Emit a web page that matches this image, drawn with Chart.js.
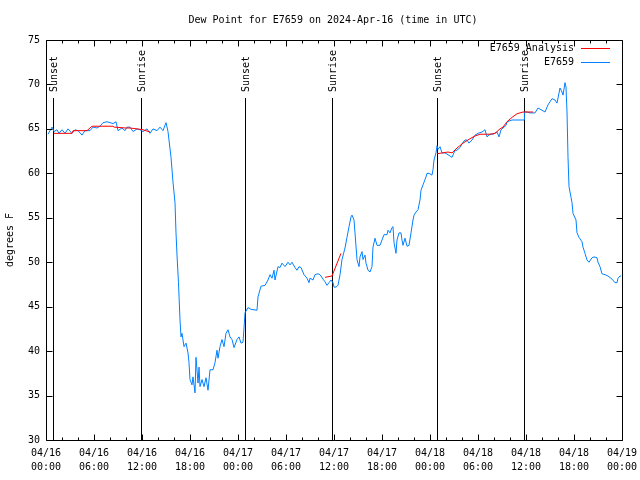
<!DOCTYPE html>
<html>
<head>
<meta charset="utf-8">
<title>Dew Point for E7659</title>
<script src="https://cdn.jsdelivr.net/npm/chart.js@4/dist/chart.umd.min.js"></script>
<style>
  html, body { margin: 0; padding: 0; background: #fff; }
  #dewChart { display: block; }
</style>
</head>
<body>
<canvas id="dewChart" width="640" height="480"></canvas>
<script>
// hours since 04/16 00:00 UTC
const obsHours = [0.25, 0.75, 1.0, 1.375, 1.625, 2.0, 2.375, 2.75, 3.25, 3.625, 4.0, 4.5, 4.875, 5.5, 5.875, 6.375, 6.75, 7.125, 7.625, 8.0,
  8.375, 8.75, 9.0, 9.5, 9.875, 10.125, 10.5, 10.875, 11.375, 11.75, 12.125, 12.625, 13.0, 13.375, 13.875, 14.25, 14.625, 15.0, 15.25, 15.625,
  15.875, 16.125, 16.25, 16.375, 16.56, 16.75, 16.875, 17.0, 17.25, 17.5, 17.75, 17.875, 18.0, 18.25, 18.375, 18.625, 18.75, 19.0, 19.125, 19.25,
  19.5, 19.75, 20.0, 20.25, 20.5, 20.875, 21.125, 21.375, 21.5, 21.75, 22.0, 22.25, 22.5, 22.75, 23.0, 23.25, 23.5, 23.875, 24.125, 24.375,
  24.625, 24.75, 24.875, 25.25, 25.625, 26.375, 26.5, 26.875, 27.375, 27.75, 28.0, 28.25, 28.5, 28.625, 29.0, 29.25, 29.5, 29.875, 30.25, 30.5,
  30.75, 31.125, 31.375, 31.625, 31.875, 32.25, 32.625, 32.875, 33.0, 33.375, 33.625, 34.0, 34.25, 34.625, 34.875, 35.125, 35.375, 35.625, 35.875, 36.0,
  36.25, 36.5, 36.75, 37.0, 37.375, 37.625, 37.875, 38.125, 38.25, 38.5, 38.625, 38.875, 39.125, 39.25, 39.5, 39.625, 39.875, 40.0, 40.25, 40.5,
  40.75, 40.875, 41.125, 41.375, 41.75, 42.0, 42.25, 42.625, 42.75, 43.0, 43.25, 43.375, 43.5, 43.75, 43.875, 44.125, 44.375, 44.5, 44.625, 44.875,
  45.125, 45.375, 45.625, 45.875, 46.0, 46.25, 46.5, 46.75, 46.875, 47.125, 47.25, 47.5, 47.625, 47.875, 48.25, 48.375, 48.5, 48.75, 48.875, 49.0,
  49.25, 49.5, 49.875, 50.25, 50.75, 51.125, 51.375, 51.75, 52.125, 52.375, 52.625, 52.875, 53.25, 53.625, 54.0, 54.5, 54.875, 55.125, 55.5, 55.875,
  56.375, 56.625, 56.875, 57.125, 57.5, 57.625, 58.25, 59.75, 59.8, 60.125, 60.5, 61.125, 61.5, 62.0, 62.375, 62.75, 63.25, 63.625, 63.875, 64.25,
  64.5, 64.625, 64.875, 65.0, 65.125, 65.25, 65.375, 65.625, 65.75, 65.875, 66.25, 66.375, 66.625, 67.0, 67.125, 67.375, 67.625, 67.875, 68.25, 68.5,
  68.875, 69.0, 69.25, 69.5, 69.875, 70.25, 70.75, 71.125, 71.375, 71.5, 71.75, 71.875];
const obsDewPoint = [64.4, 65.2, 64.7, 64.9, 64.5, 64.9, 64.5, 65.0, 64.5, 64.9, 64.8, 64.3, 64.8, 64.8, 65.2, 65.1, 65.3, 65.7, 65.8, 65.7,
  65.6, 65.8, 64.8, 65.1, 64.8, 65.2, 65.2, 64.7, 65.0, 64.9, 64.7, 65.0, 64.5, 65.0, 64.8, 65.2, 64.8, 65.7, 64.7, 61.8,
  59.0, 56.7, 53.3, 50.8, 47.7, 43.5, 41.6, 42.0, 40.5, 40.9, 39.8, 38.7, 36.8, 36.2, 37.1, 35.3, 39.3, 36.4, 38.2, 36.0,
  36.8, 36.0, 37.0, 35.6, 37.9, 37.9, 38.7, 40.1, 39.2, 40.5, 41.3, 40.5, 42.0, 42.4, 41.6, 41.3, 40.4, 41.3, 41.6, 40.9,
  41.0, 42.6, 44.3, 44.9, 44.7, 44.6, 46.1, 47.3, 47.4, 48.0, 48.6, 48.2, 49.1, 48.0, 49.5, 49.4, 49.9, 49.5, 50.0, 49.7,
  50.0, 49.4, 49.1, 49.5, 49.4, 48.6, 48.2, 47.7, 48.2, 48.0, 48.6, 48.7, 48.6, 48.1, 47.8, 47.4, 47.7, 48.0, 47.7, 47.2,
  47.2, 47.4, 48.6, 50.3, 51.6, 52.8, 54.0, 55.1, 55.3, 54.75, 53.3, 50.3, 49.5, 50.6, 51.2, 50.3, 50.8, 49.9, 49.1, 48.9,
  49.5, 51.7, 52.7, 51.9, 51.9, 52.5, 53.1, 53.1, 53.6, 53.3, 53.9, 54.0, 52.2, 51.0, 52.5, 53.3, 53.3, 52.5, 51.9, 52.7,
  51.8, 51.9, 53.3, 54.75, 55.3, 55.65, 55.9, 57.0, 58.1, 58.7, 59.0, 59.6, 60.0, 60.0, 59.8, 60.4, 61.5, 62.3, 63.1, 62.7,
  63.0, 62.3, 62.3, 62.1, 61.8, 62.6, 62.6, 62.9, 63.5, 63.75, 63.75, 63.4, 63.75, 64.3, 64.5, 64.65, 64.9, 64.1, 64.4, 64.4,
  64.65, 64.1, 64.9, 65.1, 65.4, 65.8, 66.0, 66.0, 66.9, 66.9, 66.8, 66.8, 67.35, 67.1, 66.9, 67.7, 68.4, 68.25, 67.9, 69.6,
  69.15, 68.8, 70.2, 69.7, 66.9, 61.8, 58.5, 57.3, 56.7, 55.5, 54.75, 53.3, 52.8, 52.3, 51.7, 51.0, 50.25, 50.0, 50.5, 50.6,
  50.5, 50.0, 49.5, 48.7, 48.6, 48.45, 48.1, 47.7, 47.7, 48.2, 48.45, 48.45];

// analysis runs, null = gap between runs
const anaHours = [1.0, 3.25, 3.375, 5.125, 5.75, 8.375, 8.5, 10.0, 10.5, 11.375, 12.125, 13.0, 13.1,
  34.875, 35.75, 36.875, 37.0,
  48.875, 50.25, 50.75, 51.375, 52.125, 53.0, 53.625, 54.25, 55.5, 56.125, 56.75, 57.125, 57.625, 58.25, 58.875, 59.625, 60.875];
const anaDewPoint = [64.5, 64.5, 64.8, 64.8, 65.3, 65.3, 65.2, 65.1, 65.1, 65.0, 64.9, 64.65, null,
  48.3, 48.45, 51.0, null,
  62.2, 62.4, 62.3, 62.85, 63.4, 63.9, 64.2, 64.4, 64.4, 64.5, 65.0, 65.2, 65.8, 66.3, 66.7, 66.9, 66.9];

const sunHours = [0.875, 11.875, 24.875, 35.75, 48.875, 59.75];
const sunLabels = ["Sunset", "Sunrise", "Sunset", "Sunrise", "Sunset", "Sunrise"];

const dateLabels = ["04/16", "04/16", "04/16", "04/16", "04/17", "04/17", "04/17", "04/17", "04/18", "04/18", "04/18", "04/18", "04/19"];
const timeLabels = ["00:00", "06:00", "12:00", "18:00", "00:00", "06:00", "12:00", "18:00", "00:00", "06:00", "12:00", "18:00", "00:00"];

const FONT = "10px 'DejaVu Sans Mono', 'Liberation Mono', monospace";
const monoFont = { family: "'DejaVu Sans Mono', 'Liberation Mono', monospace", size: 10 };

function toPoints(xs, ys) {
  return xs.map(function (x, i) { return { x: x, y: ys[i] }; });
}

const gnuplotFrame = {
  id: "gnuplotFrame",
  beforeDatasetsDraw: function (chart) {
    const ctx = chart.ctx;
    const x = chart.scales.x;
    const area = chart.chartArea;
    ctx.save();
    ctx.strokeStyle = "#000";
    ctx.lineWidth = 1;
    ctx.fillStyle = "#000";
    ctx.font = FONT;
    sunHours.forEach(function (h, i) {
      const px = Math.round(x.getPixelForValue(h)) + 0.5;
      ctx.beginPath();
      ctx.moveTo(px, 98);
      ctx.lineTo(px, area.bottom);
      ctx.stroke();
      ctx.save();
      ctx.translate(px + 1, 92);
      ctx.rotate(-Math.PI / 2);
      ctx.textAlign = "left";
      ctx.textBaseline = "middle";
      ctx.fillText(sunLabels[i], 0, 0);
      ctx.restore();
    });
    ctx.restore();
  },
  afterDraw: function (chart) {
    const ctx = chart.ctx;
    const x = chart.scales.x;
    const y = chart.scales.y;
    const a = chart.chartArea;
    const L = Math.round(a.left) + 0.5, R = Math.round(a.right) + 0.5;
    const T = Math.round(a.top) + 0.5, B = Math.round(a.bottom) + 0.5;
    ctx.save();
    ctx.strokeStyle = "#000";
    ctx.lineWidth = 1;
    ctx.beginPath();
    ctx.rect(L, T, R - L, B - T);
    // x ticks: major every 6 h, minor every 2 h, bottom and top
    for (let h = 0; h <= 72; h += 2) {
      const px = Math.round(x.getPixelForValue(h)) + 0.5;
      const len = h % 6 === 0 ? 6 : 3;
      ctx.moveTo(px, B); ctx.lineTo(px, B - len);
      ctx.moveTo(px, T); ctx.lineTo(px, T + len);
    }
    for (let v = 30; v <= 75; v += 5) {
      const py = Math.round(y.getPixelForValue(v)) + 0.5;
      ctx.moveTo(L, py); ctx.lineTo(L + 6, py);
      ctx.moveTo(R, py); ctx.lineTo(R - 6, py);
    }
    ctx.stroke();

    // title
    ctx.fillStyle = "#000";
    ctx.font = FONT;
    ctx.textAlign = "center";
    ctx.textBaseline = "middle";
    ctx.fillText("Dew Point for E7659 on 2024-Apr-16 (time in UTC)", 333, 20);

    // legend
    ctx.textAlign = "right";
    chart.data.datasets.forEach(function (ds, i) {
      const ly = 48 + i * 14;
      ctx.fillStyle = "#000";
      ctx.fillText(ds.label, 574, ly);
      ctx.strokeStyle = ds.borderColor;
      ctx.beginPath();
      ctx.moveTo(581, ly + 0.5);
      ctx.lineTo(610, ly + 0.5);
      ctx.stroke();
    });
    ctx.restore();
  }
};

new Chart(document.getElementById("dewChart"), {
  type: "line",
  data: {
    datasets: [
      {
        label: "E7659 Analysis",
        data: toPoints(anaHours, anaDewPoint),
        borderColor: "#ff0000",
        borderWidth: 1,
        pointRadius: 0,
        spanGaps: false,
        tension: 0,
      },
      {
        label: "E7659",
        data: toPoints(obsHours, obsDewPoint),
        borderColor: "#0080ff",
        borderWidth: 1,
        pointRadius: 0,
        tension: 0,
      },
    ],
  },
  options: {
    responsive: false,
    animation: false,
    events: [],
    layout: { padding: { top: 40, right: 18, left: 0, bottom: 0 } },
    plugins: {
      legend: { display: false },
      title: { display: false },
      tooltip: { enabled: false },
    },
    scales: {
      x: {
        type: "linear",
        min: 0,
        max: 72,
        afterFit: function (scale) {
          scale.height = 40;
          scale.paddingLeft = 0;
          scale.paddingRight = 0;
        },
        grid: { display: false, drawTicks: false },
        border: { display: false },
        ticks: {
          stepSize: 6,
          autoSkip: false,
          maxRotation: 0,
          padding: 6,
          color: "#000",
          font: Object.assign({ lineHeight: 1.4 }, monoFont),
          callback: function (v) {
            const i = Math.round(v / 6);
            return [dateLabels[i], timeLabels[i]];
          },
        },
      },
      y: {
        min: 30,
        max: 75,
        afterFit: function (scale) { scale.width = 46; },
        grid: { display: false, drawTicks: false },
        border: { display: false },
        title: {
          display: true,
          text: "degrees F",
          color: "#000",
          font: monoFont,
          padding: { top: 4, bottom: 0 },
        },
        ticks: {
          stepSize: 5,
          padding: 6,
          color: "#000",
          font: monoFont,
        },
      },
    },
  },
  plugins: [gnuplotFrame],
});
</script>
</body>
</html>
